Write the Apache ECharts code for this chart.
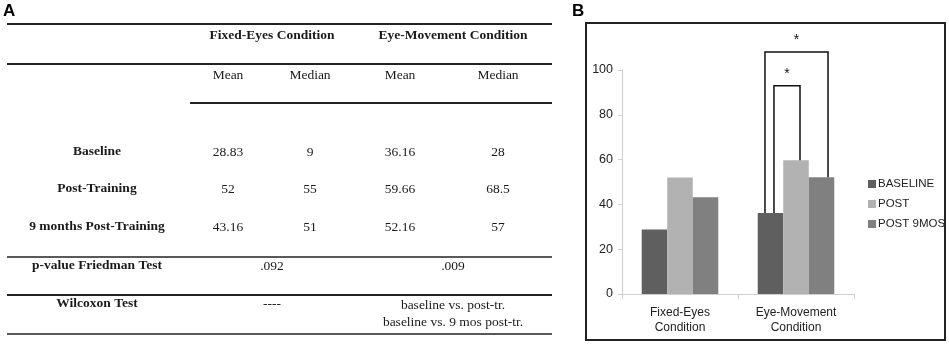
<!DOCTYPE html>
<html>
<head>
<meta charset="utf-8">
<script src="https://cdn.jsdelivr.net/npm/echarts@6/dist/echarts.min.js"></script>
<style>
  html, body { margin: 0; padding: 0; background: #fff; }
  #chart { width: 949px; height: 347px; }
</style>
</head>
<body>
<div id="chart"></div>
<script>
// ---- panel B data ----
const categories = ['Fixed-Eyes\nCondition', 'Eye-Movement\nCondition'];
const seriesNames = ['BASELINE', 'POST', 'POST 9MOS'];
const baseline = [28.83, 36.16];
const post = [52, 59.66];
const post9 = [43.16, 52.16];
const yMin = 0, yMax = 100, yStep = 20;
// significance brackets: category, from bar, to bar, height of top bar
const brackets = [
  { cat: 1, from: 0, to: 2, top: 108, mark: '*' },
  { cat: 1, from: 0, to: 1, top: 93, mark: '*' }
];

// ---- panel A (table) data ----
const tableGroups = ['Fixed-Eyes Condition', 'Eye-Movement Condition'];
const tableStats = ['Mean', 'Median', 'Mean', 'Median'];
const tableRowLabels = ['Baseline', 'Post-Training', '9 months Post-Training'];
const tableRowValues = [
  ['28.83', '9', '36.16', '28'],
  ['52', '55', '59.66', '68.5'],
  ['43.16', '51', '52.16', '57']
];
const friedmanLabel = 'p-value Friedman Test';
const friedmanValues = ['.092', '.009'];
const wilcoxonLabel = 'Wilcoxon Test';
const wilcoxonValues = ['----', 'baseline vs. post-tr.\nbaseline vs. 9 mos post-tr.'];

const colors = ['#5f5f5f', '#b2b2b2', '#808080'];
const barGapCat = 0.34;
const sansFont = '"Liberation Sans", sans-serif';
const serifFont = '"Liberation Serif", serif';

let myChart = echarts.init(document.getElementById('chart'));

// table layout
const colX = [228, 310, 400, 498];
const groupX = [272, 453];
const labelX = 97;
const rowY = [152, 189, 227];

function txt(text, x, y, bold, lineHeight) {
  return {
    type: 'text',
    style: {
      text: text, x: x, y: y,
      fontFamily: serifFont, fontSize: 13.5,
      fontWeight: bold ? 'bold' : 'normal',
      lineHeight: lineHeight || 16,
      fill: '#1a1a1a', align: 'center', verticalAlign: 'middle'
    }
  };
}
function hline(x1, x2, y, w) {
  return { type: 'line', shape: { x1: x1, y1: y, x2: x2, y2: y }, style: { stroke: '#222', lineWidth: w || 1.5 } };
}

let graphics = [];
graphics.push({ type: 'text', style: { text: 'A', x: 3, y: 3, fontFamily: sansFont, fontSize: 17, fontWeight: 'bold', fill: '#000' } });
graphics.push({ type: 'text', style: { text: 'B', x: 572, y: 3, fontFamily: sansFont, fontSize: 17, fontWeight: 'bold', fill: '#000' } });
// table rules
graphics.push(hline(7, 552, 24, 2));
graphics.push(hline(7, 552, 64, 2));
graphics.push(hline(190, 552, 103, 2));
graphics.push(hline(7, 552, 257, 1.5));
graphics.push(hline(7, 552, 295, 2));
graphics.push(hline(7, 552, 334, 1.5));
// headers and body
tableGroups.forEach((g, i) => graphics.push(txt(g, groupX[i], 36, true)));
tableStats.forEach((s, i) => graphics.push(txt(s, colX[i], 75, false)));
tableRowLabels.forEach((lab, r) => {
  graphics.push(txt(lab, labelX, rowY[r], true));
  tableRowValues[r].forEach((v, c) => graphics.push(txt(v, colX[c], rowY[r], false)));
});
graphics.push(txt(friedmanLabel, labelX, 266, true));
friedmanValues.forEach((v, i) => graphics.push(txt(v, groupX[i], 266, false)));
graphics.push(txt(wilcoxonLabel, labelX, 304, true));
graphics.push(txt(wilcoxonValues[0], groupX[0], 304, false));
graphics.push(txt(wilcoxonValues[1], groupX[1], 313.5, false, 17));
// panel B frame
graphics.push({ type: 'rect', shape: { x: 586, y: 23, width: 359, height: 317 }, style: { fill: 'none', stroke: '#222', lineWidth: 2 }, z: -1 });

const barValues = [baseline, post, post9];
const legOffsets = [[-5.5, 6.5], [3.5, 4]];

function renderBracket(params, api) {
  const b = brackets[params.dataIndex];
  const off = legOffsets[params.dataIndex];
  const cx = api.coord([b.cat, 0])[0];
  const band = api.size([1, 0])[0];
  const barW = band * (1 - barGapCat) / 3;
  const xAt = k => cx - 1.5 * barW + (k + 0.5) * barW;
  const xL = xAt(b.from) + off[0];
  const xR = xAt(b.to) + off[1];
  const yL = api.coord([b.cat, barValues[b.from][b.cat]])[1];
  const yR = api.coord([b.cat, barValues[b.to][b.cat]])[1];
  const yT = api.coord([b.cat, api.value(1)])[1];
  return {
    type: 'group',
    children: [
      { type: 'polyline', shape: { points: [[xL, yL], [xL, yT], [xR, yT], [xR, yR]] }, style: { stroke: '#111', lineWidth: 1.5, fill: 'none' } },
      { type: 'text', style: { text: b.mark, x: (xL + xR) / 2, y: yT - 12, fontFamily: sansFont, fontSize: 14, fill: '#111', align: 'center', verticalAlign: 'middle' } }
    ]
  };
}

myChart.setOption({
  animation: false,
  color: colors,
  graphic: graphics,
  grid: { left: 622, right: 95, top: 70, bottom: 53 },
  legend: {
    data: seriesNames,
    orient: 'vertical',
    left: 863,
    top: 172,
    itemWidth: 8,
    itemHeight: 8,
    itemGap: 6,
    icon: 'rect',
    textStyle: { fontFamily: sansFont, fontSize: 11.5, color: '#222', lineHeight: 14, padding: [0, 0, 0, -3] }
  },
  xAxis: {
    type: 'category',
    data: categories,
    axisLine: { lineStyle: { color: '#cfcfcf', width: 1 } },
    axisTick: { show: true, length: 5, lineStyle: { color: '#cfcfcf' } },
    axisLabel: { interval: 0, fontFamily: sansFont, fontSize: 12, color: '#222', lineHeight: 15, margin: 11 }
  },
  yAxis: {
    type: 'value',
    min: yMin,
    max: yMax,
    interval: yStep,
    splitLine: { show: false },
    axisLine: { show: true, lineStyle: { color: '#cfcfcf', width: 1 } },
    axisTick: { show: true, length: 4, lineStyle: { color: '#cfcfcf' } },
    axisLabel: { fontFamily: sansFont, fontSize: 12.5, color: '#222', margin: 9 }
  },
  series: [
    { name: seriesNames[0], type: 'bar', data: baseline, barGap: 0, barCategoryGap: (barGapCat * 100) + '%' },
    { name: seriesNames[1], type: 'bar', data: post, barGap: 0, barCategoryGap: (barGapCat * 100) + '%' },
    { name: seriesNames[2], type: 'bar', data: post9, barGap: 0, barCategoryGap: (barGapCat * 100) + '%' },
    {
      type: 'custom',
      renderItem: renderBracket,
      data: brackets.map(b => [b.cat, b.top]),
      encode: { x: 0, y: 1 },
      clip: false,
      z: 10,
      silent: true
    }
  ]
});

window.addEventListener('resize', () => {
  if (myChart) {
    myChart.resize();
  }
});
</script>
</body>
</html>
